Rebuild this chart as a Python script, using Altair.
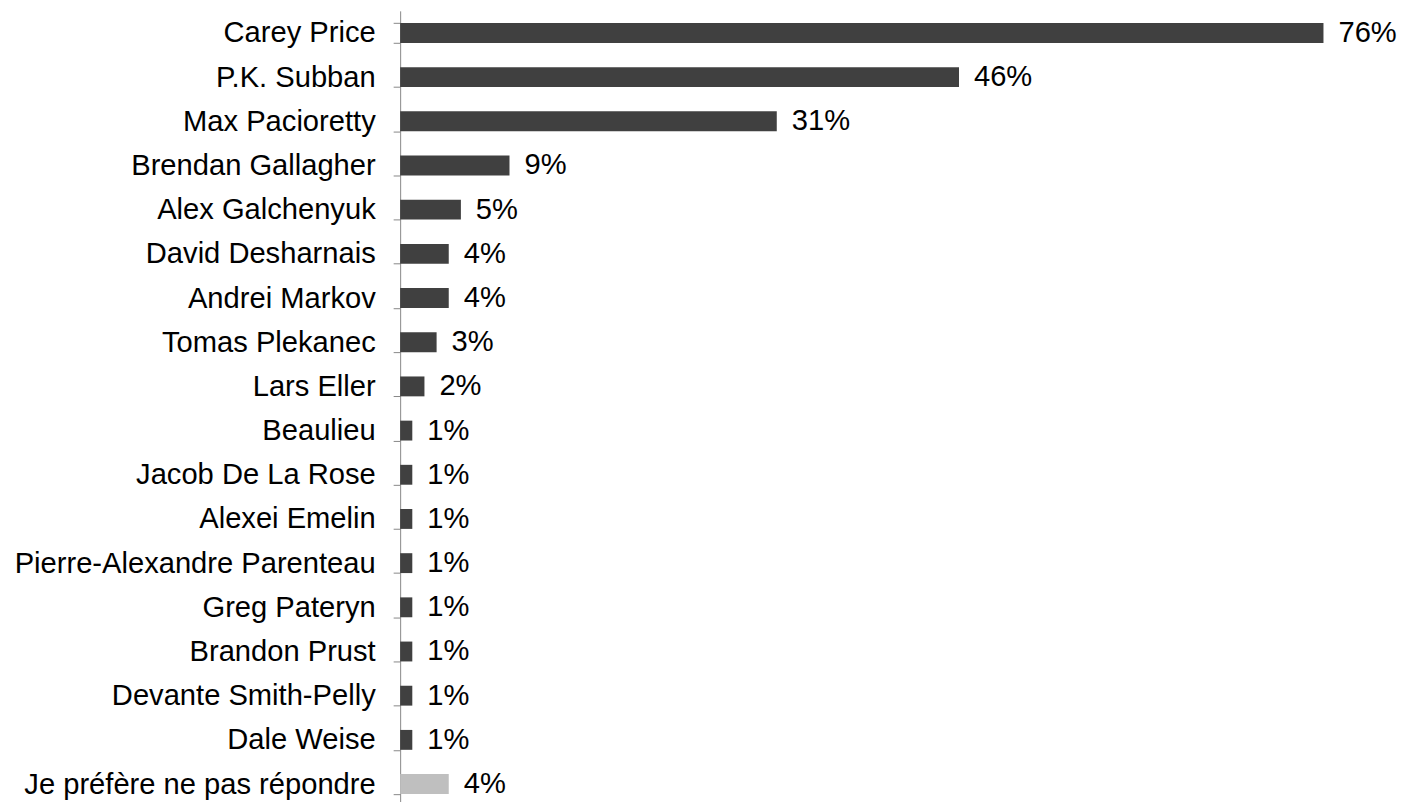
import altair as alt
import pandas as pd

names = [
    "Carey Price", "P.K. Subban", "Max Pacioretty", "Brendan Gallagher",
    "Alex Galchenyuk", "David Desharnais", "Andrei Markov", "Tomas Plekanec",
    "Lars Eller", "Beaulieu", "Jacob De La Rose", "Alexei Emelin",
    "Pierre-Alexandre Parenteau", "Greg Pateryn", "Brandon Prust",
    "Devante Smith-Pelly", "Dale Weise", "Je préfère ne pas répondre",
]
values = [76, 46, 31, 9, 5, 4, 4, 3, 2, 1, 1, 1, 1, 1, 1, 1, 1, 4]
colors = ["#404040"] * 17 + ["#BFBFBF"]

df = pd.DataFrame({
    "name": names,
    "value": values,
    "color": colors,
    "label": [f"{v}%" for v in values],
})

FONT = "Liberation Sans"
FS = 29.2

y = alt.Y(
    "name:N", sort=names,
    scale=alt.Scale(paddingInner=0.55, paddingOuter=0.275),
    axis=alt.Axis(
        title=None, tickBand="extent", tickSize=7, tickColor="#888888",
        domainColor="#888888", labelFont=FONT, labelFontSize=FS,
        labelColor="#000000", labelPadding=18, labelLimit=0,
    ),
)
x = alt.X("value:Q", scale=alt.Scale(domain=[0, 80], nice=False), axis=None)

bars = alt.Chart(df).mark_bar().encode(
    y=y, x=x, color=alt.Color("color:N", scale=None)
)
text = alt.Chart(df).mark_text(
    align="left", baseline="middle", dx=15, font=FONT, fontSize=FS, color="#000000"
).encode(
    y=alt.Y("name:N", sort=names),
    x=alt.X("value:Q"),
    text="label:N",
)

chart = (bars + text).properties(
    width=974, height=797,
    padding={"left": 393, "top": 2, "right": 30, "bottom": 0},
    autosize=alt.AutoSizeParams(type="none"),
).configure_view(stroke=None)

chart.save("out.html", embed_options={"renderer": "svg", "actions": False})
